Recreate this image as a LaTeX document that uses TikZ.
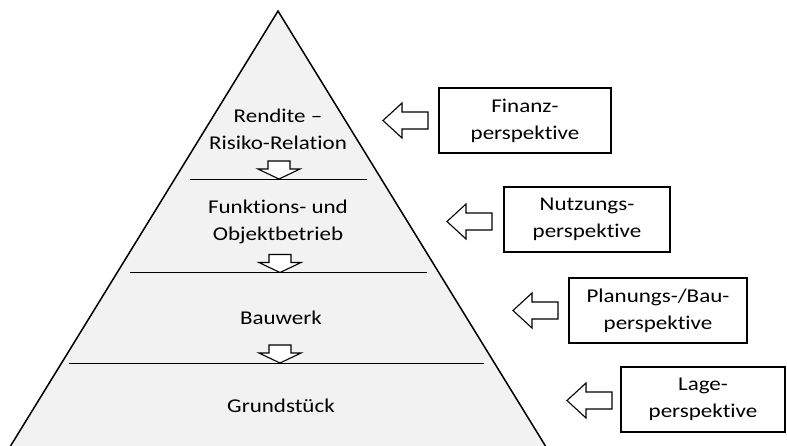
\documentclass[tikz,border=0pt]{standalone}
\usepackage{fontspec}
\setmainfont{Carlito}[FakeStretch=1.18, Ligatures={NoCommon}]
\definecolor{pyrfill}{HTML}{F2F2F2}
\begin{document}
\begin{tikzpicture}[x=1pt,y=-1pt,
  txt/.style={font=\fontsize{19.5}{27}\selectfont, align=center, inner sep=0pt},
  lbl/.style={txt},
  persp/.style={txt, draw=black, line width=1.3pt, fill=white, minimum height=65pt},
  blockarrow/.style={draw=black, line width=1.1pt, fill=white, line join=miter},
  level/.style={draw=black, line width=0.9pt},
  downarrow/.pic={\draw[blockarrow] (-11,-18) -- (11,-18) -- (11,-10) -- (21,-10) -- (0,0) -- (-21,-10) -- (-11,-10) -- cycle;},
  leftarrow/.pic={\draw[blockarrow] (0,0) -- (19,-17.5) -- (19,-8.5) -- (45,-8.5) -- (45,8.5) -- (19,8.5) -- (19,17.5) -- cycle;}]
\useasboundingbox (0,0) rectangle (787,445);
\clip (0,0) rectangle (787,445);

% pyramid
\coordinate (apex) at (278,11);
\coordinate (baseL) at (5,455);
\coordinate (baseR) at (551,455);
\filldraw[fill=pyrfill, draw=black, line width=1.5pt, line join=miter] (apex) -- (baseL) -- (baseR) -- cycle;

% level separators
\draw[level] (190,179) -- (367,179);
\draw[level] (130,272) -- (427,272);
\draw[level] (69,363) -- (484,363);

% level labels
\node[lbl] (rendite) at (278,129.5) {Rendite --\\Risiko-Relation};
\node[lbl] (betrieb) at (278,221.5) {Funktions- und\\Objektbetrieb};
\node[lbl] (bauwerk) at (281,317.5) {Bauwerk};
\node[lbl] (grund) at (281,405.5) {Grundstück};

% downward block arrows between levels
\pic at (279,179) {downarrow};
\pic at (280,272.5) {downarrow};
\pic at (280,363) {downarrow};

% perspective boxes
\node[persp, minimum width=172pt] (finanz) at (525,120.5) {Finanz-\\perspektive};
\node[persp, minimum width=166pt] (nutzung) at (587,219.5) {Nutzungs-\\perspektive};
\node[persp, minimum width=178pt] (planung) at (658,310.5) {Planungs-/Bau-\\perspektive};
\node[persp, minimum width=164pt] (lage) at (703,399.5) {Lage-\\perspektive};

% leftward block arrows towards the pyramid
\pic at (383,120.5) {leftarrow};
\pic at (447,221.5) {leftarrow};
\pic at (513,310.5) {leftarrow};
\pic at (567,400.5) {leftarrow};
\end{tikzpicture}
\end{document}
